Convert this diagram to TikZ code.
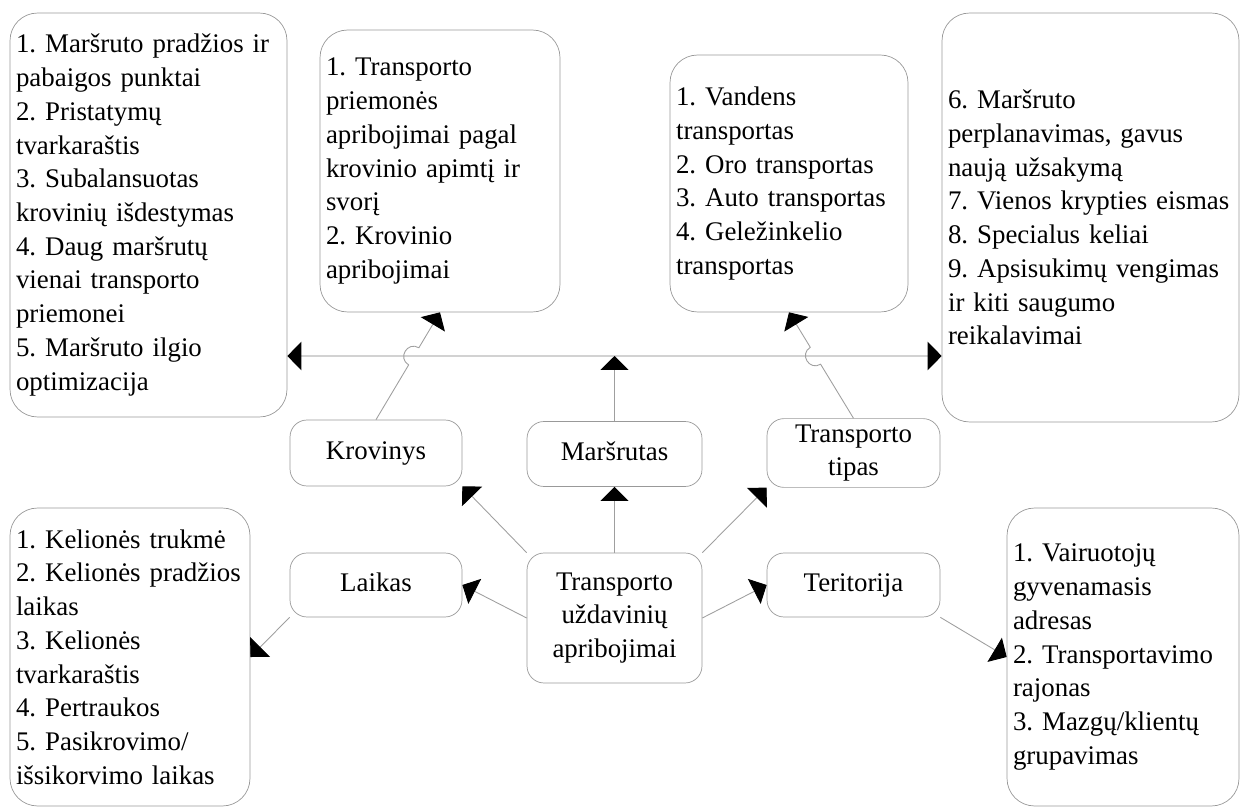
\documentclass[tikz,border=0pt]{standalone}
\usepackage{fontspec}
\setmainfont{Liberation Serif}
\usetikzlibrary{arrows.meta, calc}
\frenchspacing
\hyphenpenalty=10000

\begin{document}
\begin{tikzpicture}[x=0.02cm, y=-0.02cm,
  font=\fontsize{15.3}{19.2}\selectfont,
  listbox/.style={draw=gray!80, rounded corners=0.55cm, align=left, inner xsep=0.12cm},
  smallbox/.style={draw=gray!80, rounded corners=0.34cm, align=center},
  conn/.style={draw=gray!75, line width=0.5pt, -{Triangle[length=0.28cm, width=0.56cm, color=black]}},
  mainline/.style={draw=gray!35, line width=1.5pt}]
  \useasboundingbox (0,0) rectangle (1240,810);
  % List boxes
  \node[listbox, minimum width=5.54cm, minimum height=8.08cm, text width=5.3cm] (lroute) at (148.5,215)
    {1. Maršruto pradžios ir\\ pabaigos punktai\\ 2. Pristatymų\\ tvarkaraštis\\ 3. Subalansuotas\\
     krovinių išdestymas\\ 4. Daug maršrutų\\ vienai transporto\\ priemonei\\ 5. Maršruto ilgio\\ optimizacija};
  \node[listbox, minimum width=4.8cm, minimum height=5.64cm, text width=4.56cm] (lcargo) at (440,171)
    {1. Transporto\\ priemonės\\ apribojimai pagal\\ krovinio apimtį ir\\ svorį\\ 2. Krovinio\\ apribojimai};
  \node[listbox, minimum width=4.76cm, minimum height=5.14cm, text width=4.52cm] (ltype) at (789,183.5)
    {1. Vandens\\ transportas\\ 2. Oro transportas\\ 3. Auto transportas\\ 4. Geležinkelio\\ transportas};
  \node[listbox, minimum width=5.94cm, minimum height=8.18cm, text width=5.7cm] (lother) at (1090.5,217.5)
    {6. Maršruto\\ perplanavimas, gavus\\ naują užsakymą\\ 7. Vienos krypties eismas\\ 8. Specialus keliai\\
     9. Apsisukimų vengimas\\ ir kiti saugumo\\ reikalavimai};
  \node[listbox, minimum width=4.8cm, minimum height=5.96cm, text width=4.56cm] (ltime) at (130,657)
    {1. Kelionės trukmė\\ 2. Kelionės pradžios\\ laikas\\ 3. Kelionės\\ tvarkaraštis\\ 4. Pertraukos\\
     5. Pasikrovimo/\\ išsikorvimo laikas};
  \node[listbox, minimum width=4.64cm, minimum height=5.96cm, text width=4.4cm] (lterr) at (1123,657)
    {1. Vairuotojų\\ gyvenamasis\\ adresas\\ 2. Transportavimo\\ rajonas\\ 3. Mazgų/klientų\\ grupavimas};
  % Constraint groups
  \node[smallbox, minimum width=3.44cm, minimum height=1.32cm] (kro) at (376,453) {\strut Krovinys};
  \node[smallbox, minimum width=3.5cm, minimum height=1.3cm] (mar) at (614.5,454) {\strut Maršrutas};
  \node[smallbox, minimum width=3.46cm, minimum height=1.32cm] (tip) at (853.5,453) {Transporto\\ tipas};
  \node[smallbox, minimum width=3.44cm, minimum height=1.28cm] (lai) at (376,585) {\strut Laikas};
  \node[smallbox, minimum width=3.5cm, minimum height=2.6cm] (cent) at (614.5,618)
    {Transporto\\ uždavinių\\ apribojimai};
  \node[smallbox, minimum width=3.46cm, minimum height=1.28cm] (ter) at (853.5,585) {\strut Teritorija};
  % Connectors
  \coordinate (hub) at (614.5,356);
  \draw[mainline, {Triangle[length=0.28cm, width=0.56cm, color=black]}-{Triangle[length=0.28cm, width=0.56cm, color=black]}]
    (lroute.east |- hub) -- (lother.west |- hub);
  \draw[conn] (mar.north) -- (hub);
  \draw[conn] (kro.north) -- ($(kro.north)!0.51!(lcargo.south)$)
    to[bend left=90, looseness=1.7] ($(kro.north)!0.67!(lcargo.south)$) -- (lcargo.south);
  \draw[conn] (tip.north) -- ($(tip.north)!0.51!(ltype.south)$)
    to[bend left=90, looseness=1.7] ($(tip.north)!0.67!(ltype.south)$) -- (ltype.south);
  \draw[conn] (cent.north west) -- (kro.south east);
  \draw[conn] (cent.north) -- (mar.south);
  \draw[conn] (cent.north east) -- (tip.south west);
  \draw[conn] (cent.west) -- (lai.east);
  \draw[conn] (cent.east) -- (ter.west);
  \draw[conn] (lai.south west) -- (ltime.east);
  \draw[conn] (ter.south east) -- (lterr.west);
\end{tikzpicture}
\end{document}
